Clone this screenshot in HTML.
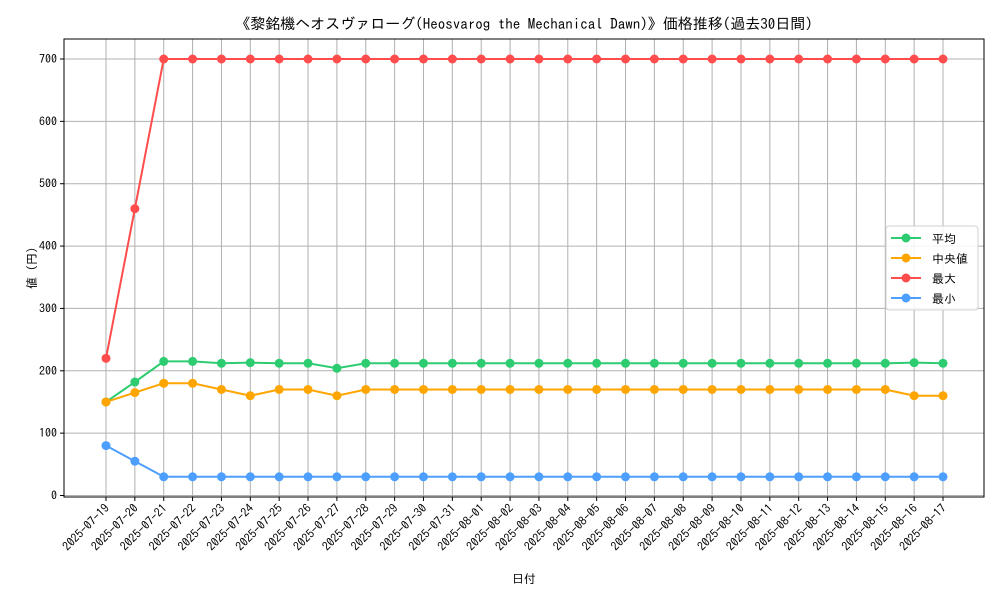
<!DOCTYPE html>
<html><head><meta charset="utf-8">
<style>body{margin:0;background:#fff}svg{display:block;font-family:"IPAGothic","Liberation Sans","Noto Sans CJK JP",sans-serif}</style>
</head><body>
<svg id="chart" width="1000" height="600"></svg>
<script>
const dates=["2025-07-19","2025-07-20","2025-07-21","2025-07-22","2025-07-23","2025-07-24","2025-07-25","2025-07-26","2025-07-27","2025-07-28","2025-07-29","2025-07-30","2025-07-31","2025-08-01","2025-08-02","2025-08-03","2025-08-04","2025-08-05","2025-08-06","2025-08-07","2025-08-08","2025-08-09","2025-08-10","2025-08-11","2025-08-12","2025-08-13","2025-08-14","2025-08-15","2025-08-16","2025-08-17"];
const avgVals=[150,182,215,215,212,213,212,212,204,212,212,212,212,212,212,212,212,212,212,212,212,212,212,212,212,212,212,212,213,212];
const medVals=[150,165,180,180,170,160,170,170,160,170,170,170,170,170,170,170,170,170,170,170,170,170,170,170,170,170,170,170,160,160];
const maxVals=[220,460,700,700,700,700,700,700,700,700,700,700,700,700,700,700,700,700,700,700,700,700,700,700,700,700,700,700,700,700];
const minVals=[80,55,30,30,30,30,30,30,30,30,30,30,30,30,30,30,30,30,30,30,30,30,30,30,30,30,30,30,30,30];
const yTicks=[0,100,200,300,400,500,600,700];
const series=[["平均",avgVals,"#2ecc71","avg"],["中央値",medVals,"#ffa500","median"],["最大",maxVals,"#ff4d4d","max"],["最小",minVals,"#4d9fff","min"]];
const L=64,R=984,T=39,B=497;
const x=i=>106+i*(943-106)/(dates.length-1);
const y=v=>495.5-v*(436.5/700);
const svg=document.getElementById('chart');
const NS="http://www.w3.org/2000/svg";
function mk(tag,attrs,parent,text){const e=document.createElementNS(NS,tag);for(const k in attrs)e.setAttribute(k,attrs[k]);if(text!=null)e.textContent=text;(parent||svg).appendChild(e);return e;}
dates.forEach((d,i)=>{const g=mk('line',{x1:x(i),x2:x(i),y1:T,y2:B,stroke:'#b0b0b0','stroke-width':1});
});
yTicks.forEach(v=>{const g=mk('line',{x1:L,x2:R,y1:y(v),y2:y(v),stroke:'#b0b0b0','stroke-width':1});
});
const fr=mk('rect',{x:L,y:T,width:R-L,height:B-T,fill:'none',stroke:'#000','stroke-width':1});

yTicks.forEach(v=>{mk('line',{x1:L-4,x2:L,y1:y(v),y2:y(v),stroke:'#000'});
const t=mk('text',{x:L-7,y:y(v)+4,'text-anchor':'end','font-size':12},null,v);
});
dates.forEach((d,i)=>{mk('line',{x1:x(i),x2:x(i),y1:B,y2:B+4,stroke:'#000'});
const t=mk('text',{x:x(i)+4,y:B+12,'text-anchor':'end','font-size':12,transform:`rotate(-45 ${x(i)+4} ${B+12})`},null,d);
});
series.forEach(([n,vals,c,id])=>{
const p=mk('polyline',{points:vals.map((v,i)=>x(i)+','+y(v)).join(' '),fill:'none',stroke:c,'stroke-width':2});

vals.forEach((v,i)=>{const m=mk('circle',{cx:x(i),cy:y(v),r:4.5,fill:c});
});});
const tt=mk('text',{x:524,y:29,'text-anchor':'middle','font-size':15},null,"《黎銘機ヘオスヴァローグ(Heosvarog the Mechanical Dawn)》価格推移(過去30日間)");

const xl=mk('text',{x:524,y:583,'text-anchor':'middle','font-size':12},null,"日付");

const yl=mk('text',{x:36,y:268,'text-anchor':'middle','font-size':12,transform:'rotate(-90 36 268)'},null,"値 (円)");

const lg=mk('g',{});
mk('rect',{x:886,y:226,width:92,height:84,rx:3,fill:'#fff','fill-opacity':0.85,stroke:'#d0d0d0'},lg);
series.forEach(([n,vals,c,id],k)=>{const yy=238+k*20;
const e=mk('g',{},lg);
mk('line',{x1:891,x2:921,y1:yy,y2:yy,stroke:c,'stroke-width':2},e);
mk('circle',{cx:906,cy:yy,r:4.5,fill:c},e);
mk('text',{x:932,y:yy+5,'font-size':12},e,n);});
</script>
</body></html>
